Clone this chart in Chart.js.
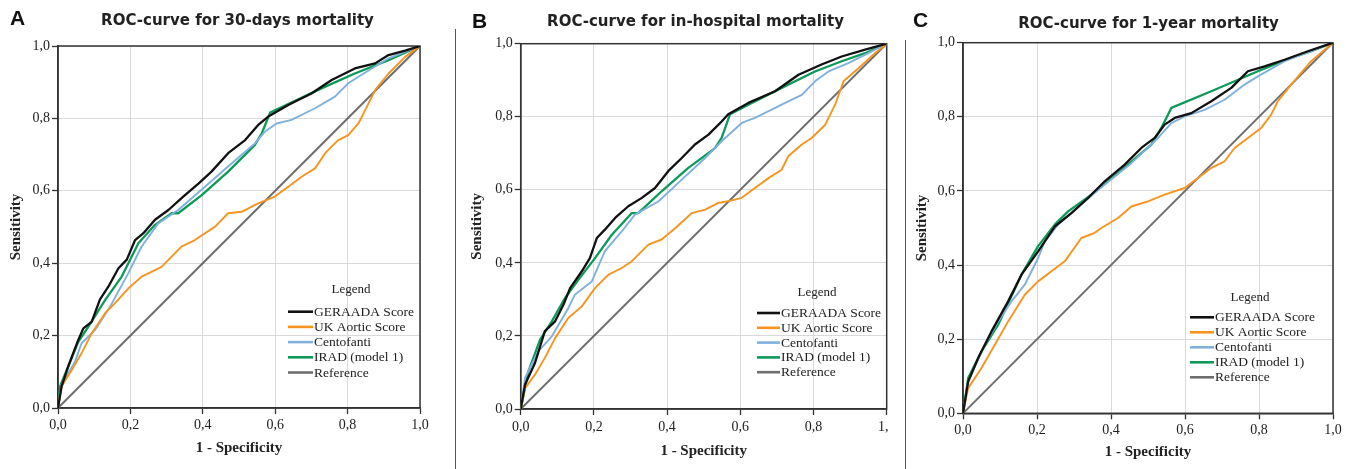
<!DOCTYPE html>
<html><head><meta charset="utf-8">
<script src="https://cdn.jsdelivr.net/npm/chart.js@4.4.0/dist/chart.umd.min.js"></script>
<style>
html,body{margin:0;padding:0;background:#fff;}
body{width:1352px;height:469px;position:relative;overflow:hidden;}
.panel{position:absolute;top:0;height:469px;background:#fff;}
.panel canvas{display:block;}
.letter{position:absolute;font:bold 21px 'Liberation Sans',Arial,sans-serif;color:#111;line-height:1;z-index:5;}
.title{position:absolute;font:bold 15px 'DejaVu Sans',sans-serif;color:#222;white-space:nowrap;line-height:1;transform:translate(-50%,-50%);z-index:5;}
.sep{position:absolute;width:1.5px;background:#555;z-index:5;}
</style></head><body>

<div class="panel" id="pA" style="left:0px;width:450px;z-index:1"><canvas id="cA"></canvas></div>
<div class="panel" id="pB" style="left:456px;width:460px;z-index:2"><canvas id="cB"></canvas></div>
<div class="panel" id="pC" style="left:889px;width:463px;z-index:3"><canvas id="cC"></canvas></div>

<div class="sep" style="left:454.5px;top:29px;height:440px"></div>
<div class="sep" style="left:904.5px;top:40px;height:429px"></div>

<div class="letter" style="left:10px;top:7px">A</div>
<div class="letter" style="left:472px;top:10px">B</div>
<div class="letter" style="left:913px;top:9px">C</div>

<div class="title" style="left:237.5px;top:19.5px">ROC-curve for 30-days mortality</div>
<div class="title" style="left:695.5px;top:21px">ROC-curve for in-hospital mortality</div>
<div class="title" style="left:1148.5px;top:23px">ROC-curve for 1-year mortality</div>

<script>
// ---------- DATA ----------
const tickValues = [0, 0.2, 0.4, 0.6, 0.8, 1.0];
const tickLabels = ['0,0', '0,2', '0,4', '0,6', '0,8', '1,0'];
const seriesNames = ['GERAADA Score', 'UK Aortic Score', 'Centofanti', 'IRAD (model 1)', 'Reference'];
const xAxisTitle = '1 - Specificity';
const yAxisTitle = 'Sensitivity';
const legendTitle = 'Legend';
const referenceLine = [[0, 0], [1, 1]];

// Panel A: 30-days mortality  [1 - specificity, sensitivity]
const geraada30d = [[0,0],[0.01,0.06],[0.03,0.12],[0.056,0.188],[0.07,0.22],[0.093,0.238],[0.116,0.30],[0.139,0.335],[0.167,0.386],[0.19,0.41],[0.213,0.464],[0.236,0.483],[0.268,0.52],[0.305,0.547],[0.346,0.584],[0.388,0.62],[0.424,0.653],[0.47,0.704],[0.517,0.74],[0.553,0.782],[0.581,0.805],[0.636,0.837],[0.70,0.869],[0.756,0.906],[0.82,0.938],[0.876,0.952],[0.913,0.975],[0.959,0.987],[1,1]];
const ukAortic30d = [[0,0],[0.01,0.06],[0.038,0.105],[0.065,0.151],[0.093,0.206],[0.13,0.262],[0.157,0.289],[0.194,0.33],[0.231,0.363],[0.268,0.381],[0.286,0.39],[0.341,0.446],[0.378,0.464],[0.434,0.501],[0.47,0.538],[0.507,0.542],[0.553,0.565],[0.599,0.584],[0.636,0.611],[0.673,0.639],[0.71,0.662],[0.738,0.704],[0.774,0.74],[0.802,0.754],[0.83,0.786],[0.853,0.832],[0.876,0.878],[0.913,0.924],[0.959,0.97],[1,1]];
const centofanti30d = [[0,0],[0.01,0.064],[0.047,0.128],[0.065,0.179],[0.102,0.215],[0.144,0.28],[0.194,0.372],[0.231,0.446],[0.277,0.51],[0.332,0.547],[0.406,0.611],[0.48,0.676],[0.544,0.731],[0.571,0.763],[0.604,0.786],[0.645,0.796],[0.71,0.828],[0.765,0.86],[0.802,0.897],[0.83,0.915],[0.913,0.966],[1,1]];
const irad30d = [[0,0],[0.006,0.06],[0.056,0.183],[0.084,0.225],[0.13,0.298],[0.176,0.363],[0.222,0.455],[0.268,0.506],[0.314,0.538],[0.332,0.538],[0.397,0.588],[0.47,0.653],[0.544,0.727],[0.563,0.759],[0.586,0.816],[0.636,0.84],[0.728,0.883],[0.82,0.924],[0.913,0.961],[1,1]];

// Panel B: in-hospital mortality
const geraadaHosp = [[0,0],[0.012,0.067],[0.039,0.126],[0.066,0.213],[0.094,0.24],[0.117,0.286],[0.135,0.331],[0.167,0.377],[0.189,0.413],[0.208,0.468],[0.23,0.491],[0.258,0.523],[0.294,0.555],[0.331,0.578],[0.367,0.605],[0.403,0.651],[0.44,0.687],[0.476,0.724],[0.513,0.751],[0.549,0.787],[0.567,0.807],[0.622,0.838],[0.695,0.87],[0.759,0.915],[0.822,0.943],[0.877,0.965],[0.941,0.984],[1,1]];
const ukAorticHosp = [[0,0],[0.012,0.057],[0.039,0.094],[0.066,0.14],[0.094,0.194],[0.13,0.249],[0.167,0.281],[0.203,0.331],[0.24,0.368],[0.276,0.386],[0.303,0.404],[0.349,0.45],[0.385,0.464],[0.422,0.495],[0.467,0.536],[0.504,0.546],[0.54,0.564],[0.577,0.571],[0.604,0.578],[0.64,0.605],[0.677,0.632],[0.713,0.655],[0.731,0.692],[0.768,0.724],[0.795,0.742],[0.832,0.778],[0.859,0.833],[0.882,0.897],[0.923,0.933],[0.968,0.974],[1,1]];
const centofantiHosp = [[0,0],[0.012,0.085],[0.048,0.158],[0.085,0.199],[0.13,0.276],[0.148,0.313],[0.194,0.349],[0.23,0.432],[0.276,0.486],[0.312,0.532],[0.376,0.568],[0.44,0.628],[0.504,0.687],[0.549,0.733],[0.604,0.783],[0.64,0.797],[0.713,0.833],[0.768,0.86],[0.804,0.897],[0.841,0.924],[0.895,0.947],[0.95,0.974],[1,1]];
const iradHosp = [[0,0],[0.021,0.103],[0.053,0.19],[0.085,0.24],[0.121,0.304],[0.158,0.354],[0.203,0.413],[0.249,0.477],[0.303,0.536],[0.321,0.536],[0.385,0.596],[0.458,0.66],[0.531,0.714],[0.549,0.742],[0.572,0.807],[0.622,0.833],[0.713,0.879],[0.804,0.924],[0.877,0.952],[0.941,0.974],[1,1]];

// Panel C: 1-year mortality
const geraada1y = [[0,0],[0.014,0.086],[0.041,0.149],[0.077,0.221],[0.122,0.302],[0.158,0.374],[0.203,0.437],[0.248,0.504],[0.293,0.54],[0.338,0.581],[0.383,0.626],[0.437,0.671],[0.482,0.716],[0.518,0.743],[0.545,0.779],[0.572,0.797],[0.617,0.81],[0.671,0.842],[0.725,0.878],[0.77,0.923],[0.815,0.936],[0.869,0.954],[0.932,0.977],[1,1]];
const ukAortic1y = [[0,0],[0.014,0.068],[0.05,0.122],[0.086,0.185],[0.122,0.248],[0.167,0.32],[0.203,0.356],[0.239,0.383],[0.275,0.41],[0.32,0.473],[0.356,0.487],[0.374,0.5],[0.419,0.527],[0.455,0.558],[0.5,0.572],[0.545,0.59],[0.599,0.608],[0.635,0.635],[0.671,0.662],[0.707,0.68],[0.734,0.716],[0.77,0.743],[0.806,0.77],[0.833,0.806],[0.851,0.842],[0.887,0.887],[0.941,0.95],[1,1]];
const centofanti1y = [[0,0],[0.014,0.086],[0.059,0.185],[0.095,0.248],[0.131,0.302],[0.167,0.347],[0.203,0.419],[0.221,0.464],[0.257,0.509],[0.302,0.549],[0.383,0.617],[0.455,0.675],[0.527,0.743],[0.563,0.783],[0.599,0.801],[0.653,0.819],[0.707,0.846],[0.761,0.887],[0.797,0.909],[0.869,0.95],[0.941,0.977],[1,1]];
const irad1y = [[0,0],[0.014,0.095],[0.05,0.167],[0.095,0.239],[0.158,0.374],[0.203,0.451],[0.248,0.509],[0.284,0.545],[0.347,0.59],[0.419,0.648],[0.509,0.725],[0.536,0.77],[0.563,0.824],[0.671,0.869],[0.797,0.923],[0.887,0.959],[0.941,0.977],[1,1]];

// ---------- STYLE ----------
const seriesColors = ['#111111', '#f7941e', '#7fb1dc', '#0c9a5b', '#6e6e6e'];
const seriesWidths = [2.3, 1.9, 1.9, 2.3, 2];

const framePlugin = {
  id: 'frame',
  beforeDatasetsDraw(chart) {
    const {ctx, chartArea: a} = chart;
    ctx.save();
    ctx.strokeStyle = '#333';
    ctx.lineWidth = 1.5;
    ctx.strokeRect(a.left, a.top, a.right - a.left, a.bottom - a.top);
    ctx.restore();
  }
};

const legendPlugin = {
  id: 'roclegend',
  afterDatasetsDraw(chart, args, o) {
    const {ctx, chartArea: a} = chart;
    ctx.save();
    ctx.fillStyle = '#222';
    ctx.textBaseline = 'middle';
    ctx.textAlign = 'center';
    ctx.font = '13px "Liberation Serif", serif';
    ctx.fillText(legendTitle, a.right - o.titleDx, a.bottom - o.titleDy);
    ctx.textAlign = 'left';
    ctx.font = '13.5px "Liberation Serif", serif';
    const x0 = a.right - o.dx;
    chart.data.datasets.forEach((ds, i) => {
      const y = a.bottom - o.rowDy + i * o.gap;
      ctx.strokeStyle = ds.borderColor;
      ctx.lineWidth = 2.6;
      ctx.beginPath();
      ctx.moveTo(x0, y);
      ctx.lineTo(x0 + o.sw, y);
      ctx.stroke();
      ctx.fillText(ds.label, x0 + o.sw + 1, y + 0.5);
    });
    ctx.restore();
  }
};

function labelFor(v) {
  const i = tickValues.findIndex(t => Math.abs(t - v) < 1e-6);
  return i >= 0 ? tickLabels[i] : '';
}

function makeChart(id, series, L) {
  const canvas = document.getElementById(id);
  canvas.width = L.w; canvas.height = 469;
  const tickFont = {family: 'Liberation Serif', size: 14};
  const titleFont = {family: 'Liberation Serif', size: 15, weight: 'bold'};
  const grid = {color: '#d9d9d9', lineWidth: 1, tickLength: 6, tickColor: '#333', tickWidth: 1.3};
  return new Chart(canvas, {
    type: 'line',
    data: {
      datasets: series.map((d, i) => ({
        label: seriesNames[i],
        data: d.map(p => ({x: p[0], y: p[1]})),
        borderColor: seriesColors[i],
        borderWidth: seriesWidths[i],
        pointRadius: 0,
        tension: 0,
        fill: false,
        borderJoinStyle: 'round'
      }))
    },
    options: {
      responsive: false,
      animation: false,
      events: [],
      layout: {padding: {left: 0, top: L.top, right: L.padRight, bottom: 0}},
      plugins: {legend: {display: false}, tooltip: {enabled: false}, title: {display: false}, roclegend: L.legend},
      scales: {
        x: {
          type: 'linear', min: 0, max: 1,
          afterBuildTicks: s => { s.ticks = tickValues.map(v => ({value: v})); },
          ticks: {callback: v => labelFor(v), font: tickFont, color: '#222', padding: L.tickPadX, maxRotation: 0, autoSkip: false},
          grid: grid,
          border: {color: '#333', width: 1.5},
          title: {display: true, text: xAxisTitle, font: titleFont, color: '#222', padding: {top: 0, bottom: L.xTitlePad}},
          afterFit: s => { s.height = L.xH; }
        },
        y: {
          type: 'linear', min: 0, max: 1,
          afterBuildTicks: s => { s.ticks = tickValues.map(v => ({value: v})); },
          ticks: {callback: v => labelFor(v), font: tickFont, color: '#222', padding: 2, autoSkip: false},
          grid: grid,
          border: {color: '#333', width: 1.5},
          title: {display: true, text: yAxisTitle, font: titleFont, color: '#222', padding: {top: L.yTitlePad, bottom: 0}},
          afterFit: s => { s.width = L.yW; }
        }
      }
    },
    plugins: [framePlugin, legendPlugin]
  });
}

makeChart('cA', [geraada30d, ukAortic30d, centofanti30d, irad30d, referenceLine], {
  w: 450, top: 46, padRight: 30, yW: 58, xH: 61, yTitlePad: 7, xTitlePad: 12, tickPadX: 3,
  legend: {dx: 132, titleDx: 69, titleDy: 118, rowDy: 96.3, gap: 15.2, sw: 25}
});
makeChart('cB', [geraadaHosp, ukAorticHosp, centofantiHosp, iradHosp, referenceLine], {
  w: 460, top: 43.7, padRight: 29.3, yW: 64.7, xH: 60, yTitlePad: 12.5, xTitlePad: 9, tickPadX: 4,
  legend: {dx: 129.7, titleDx: 69.7, titleDy: 116, rowDy: 96, gap: 14.8, sw: 23}
});
makeChart('cC', [geraada1y, ukAortic1y, centofanti1y, irad1y, referenceLine], {
  w: 463, top: 42.7, padRight: 19, yW: 74, xH: 55.7, yTitlePad: 24.5, xTitlePad: 8, tickPadX: 3,
  legend: {dx: 143, titleDx: 83, titleDy: 115.3, rowDy: 96, gap: 15, sw: 24}
});
</script>
</body></html>
